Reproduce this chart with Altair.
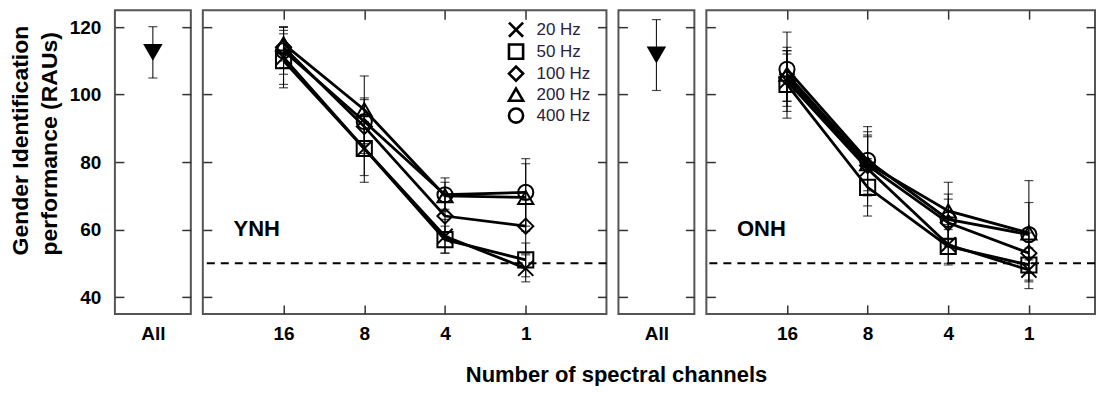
import altair as alt
import pandas as pd

FONT = "Liberation Sans"

freqs = ["20 Hz", "50 Hz", "100 Hz", "200 Hz", "400 Hz"]
channels = [16, 8, 4, 1]
channel_labels = ["16", "8", "4", "1"]

# YNH means / errors (per frequency, for 16, 8, 4, 1 channels)
ynh_20 = [111.0, 84.0, 58.0, 48.5]
ynh_50 = [110.0, 84.0, 57.0, 51.0]
ynh_100 = [114.0, 90.5, 64.0, 61.0]
ynh_200 = [115.0, 95.5, 70.0, 69.5]
ynh_400 = [113.0, 92.0, 70.3, 71.0]
ynh_20_err = [8, 10, 5, 4]
ynh_50_err = [8, 8, 4, 5]
ynh_100_err = [6, 8, 6, 8]
ynh_200_err = [5, 10, 4, 10]
ynh_400_err = [7, 7, 5, 10]

# ONH means / errors
onh_20 = [104.0, 78.0, 55.5, 48.0]
onh_50 = [103.0, 72.5, 55.0, 49.5]
onh_100 = [105.0, 79.0, 62.0, 53.0]
onh_200 = [106.0, 79.5, 65.5, 59.0]
onh_400 = [107.5, 80.5, 63.0, 58.5]
onh_20_err = [9, 11, 6, 3]
onh_50_err = [10, 8.5, 5, 5]
onh_100_err = [7, 9, 7, 6]
onh_200_err = [8, 8, 8.5, 9]
onh_400_err = [11, 10, 7.5, 16]

# "All" (unprocessed) condition
all_groups = ["YNH", "ONH"]
all_mean = [112.5, 111.7]
all_err = [7.6, 10.5]

chance_level = [50]
y_ticks = [40, 60, 80, 100, 120]


def build_df(means, errs):
    rows = []
    for f, m, e in zip(freqs, means, errs):
        for i, c in enumerate(channels):
            rows.append({"freq": f, "channels": c, "pos": i + 1,
                         "mean": m[i], "lo": m[i] - e[i], "hi": m[i] + e[i]})
    return pd.DataFrame(rows)


ynh_df = build_df([ynh_20, ynh_50, ynh_100, ynh_200, ynh_400],
                  [ynh_20_err, ynh_50_err, ynh_100_err, ynh_200_err, ynh_400_err])
onh_df = build_df([onh_20, onh_50, onh_100, onh_200, onh_400],
                  [onh_20_err, onh_50_err, onh_100_err, onh_200_err, onh_400_err])

H = 304
ys = alt.Scale(domain=[35, 125], nice=False, zero=False)

X_PATH = "M-1,-1L1,1M-1,1L1,-1"
shape_scale = alt.Scale(domain=freqs,
                        range=[X_PATH, "square", "diamond", "triangle-up", "circle"])


def left_axis(with_labels):
    kw = dict(orient="left", values=y_ticks, offset=-9, tickSize=9, domain=False,
              grid=False, tickColor="#333", tickWidth=1.5)
    if with_labels:
        kw.update(labels=True, labelPadding=14, labelFontSize=19, labelFontWeight="bold",
                  labelFont=FONT, labelColor="black",
                  title=["Gender Identification", "performance (RAUs)"],
                  titleFont=FONT, titleFontSize=23, titleFontWeight="bold",
                  titleColor="black", titleAngle=270, titleAlign="left",
                  titleLineHeight=29, titlePadding=8, titleY=245)
    else:
        kw.update(labels=False, title=None)
    return alt.Axis(**kw)


right_axis = alt.Axis(orient="right", values=y_ticks, offset=-9, tickSize=9,
                      domain=False, grid=False, labels=False, title=None,
                      tickColor="#333", tickWidth=1.5)


def line_panel(df, width, xmax, label, show_legend):
    xs = alt.Scale(domain=[0, xmax], nice=False, zero=False)
    bottom_axis = alt.Axis(orient="bottom", values=[1, 2, 3, 4], offset=-9, tickSize=9,
                           domain=False, grid=False, title=None,
                           labelExpr="['16','8','4','1'][datum.value-1]",
                           labelPadding=11, labelFontSize=19, labelFontWeight="bold",
                           labelFont=FONT, labelColor="black",
                           tickColor="#333", tickWidth=1.5)
    top_axis = alt.Axis(orient="top", values=[1, 2, 3, 4], offset=-9, tickSize=9,
                        domain=False, grid=False, labels=False, title=None,
                        tickColor="#333", tickWidth=1.5)
    base = alt.Chart(df)
    rules = base.mark_rule(color="black", strokeWidth=1).encode(
        x=alt.X("pos:Q", scale=xs, axis=bottom_axis),
        y=alt.Y("lo:Q", scale=ys, axis=left_axis(False)),
        y2="hi:Q",
    )
    cap_lo = base.mark_tick(orient="horizontal", size=9, thickness=1.2, color="black").encode(
        x=alt.X("pos:Q", scale=xs, axis=top_axis),
        y=alt.Y("lo:Q", scale=ys, axis=right_axis),
    )
    cap_hi = base.mark_tick(orient="horizontal", size=9, thickness=1.2, color="black").encode(
        x=alt.X("pos:Q", scale=xs, axis=None),
        y=alt.Y("hi:Q", scale=ys, axis=None),
    )
    lines = base.mark_line(color="black", strokeWidth=2.8).encode(
        x=alt.X("pos:Q", scale=xs, axis=None),
        y=alt.Y("mean:Q", scale=ys, axis=None),
        detail="freq:N",
        order="pos:Q",
    )
    if show_legend:
        legend = alt.Legend(orient="none", legendX=305, legendY=11, title=None,
                            labelFont=FONT, labelFontSize=17, labelColor="#2b2040",
                            symbolStrokeColor="black", symbolStrokeWidth=2.6,
                            symbolSize=200, symbolFillColor="transparent",
                            rowPadding=-3, labelOffset=12)
    else:
        legend = None
    points = base.mark_point(filled=False, color="black", strokeWidth=2, size=230,
                             opacity=1).encode(
        x=alt.X("pos:Q", scale=xs, axis=None),
        y=alt.Y("mean:Q", scale=ys, axis=None),
        shape=alt.Shape("freq:N", scale=shape_scale, legend=legend, sort=freqs),
    )
    chance = alt.Chart(pd.DataFrame({"chance": chance_level})).mark_rule(
        color="black", strokeWidth=1.8, strokeDash=[8, 6]).encode(
        y=alt.Y("chance:Q", scale=ys, axis=None))
    text = alt.Chart(pd.DataFrame({"x": [0.38], "y": [60.2], "label": [label]})).mark_text(
        align="left", baseline="middle", font=FONT, fontSize=22, fontWeight="bold",
        color="black").encode(
        x=alt.X("x:Q", scale=xs, axis=None),
        y=alt.Y("y:Q", scale=ys, axis=None),
        text="label:N")
    return alt.layer(chance, rules, cap_lo, cap_hi, lines, points, text).resolve_axis(
        x="independent", y="independent").properties(width=width, height=H)


def all_panel(i, first):
    d = pd.DataFrame({"cond": ["All"], "mean": [all_mean[i]],
                      "lo": [all_mean[i] - all_err[i]], "hi": [all_mean[i] + all_err[i]]})
    xs = alt.Scale(type="point", domain=["All"], padding=0.5)
    x_axis = alt.Axis(orient="bottom", ticks=False, tickSize=0, domain=False, grid=False,
                      title=None, labelAngle=0, labelPadding=11, labelFontSize=19,
                      labelFontWeight="bold", labelFont=FONT, labelColor="black")
    base = alt.Chart(d)
    rules = base.mark_rule(color="black", strokeWidth=1).encode(
        x=alt.X("cond:N", scale=xs, axis=x_axis),
        y=alt.Y("lo:Q", scale=ys, axis=left_axis(first)),
        y2="hi:Q")
    cap_lo = base.mark_tick(orient="horizontal", size=9, thickness=1.2, color="black").encode(
        x=alt.X("cond:N", scale=xs, axis=None),
        y=alt.Y("lo:Q", scale=ys, axis=right_axis))
    cap_hi = base.mark_tick(orient="horizontal", size=9, thickness=1.2, color="black").encode(
        x=alt.X("cond:N", scale=xs, axis=None),
        y=alt.Y("hi:Q", scale=ys, axis=None))
    pt = base.mark_point(shape="triangle-down", filled=True, color="black", size=380,
                         opacity=1).encode(
        x=alt.X("cond:N", scale=xs, axis=None),
        y=alt.Y("mean:Q", scale=ys, axis=None))
    return alt.layer(rules, cap_lo, cap_hi, pt).resolve_axis(
        x="independent", y="independent").properties(width=76, height=H)


chart = alt.hconcat(
    all_panel(0, True),
    line_panel(ynh_df, 404, 5.0, "YNH", True),
    all_panel(1, False),
    line_panel(onh_df, 389, 4.82, "ONH", False),
    spacing=12, bounds="flush",
).resolve_scale(shape="independent").properties(
    title=alt.TitleParams("Number of spectral channels", orient="bottom", anchor="middle",
                          frame="bounds", font=FONT, fontSize=22, fontWeight="bold",
                          color="black", offset=20, dx=64),
    padding={"left": 0, "top": 0, "right": 0, "bottom": 0},
).configure_view(stroke="#555", strokeWidth=2)

chart.save("out.html", embed_options={"renderer": "svg", "actions": False})
